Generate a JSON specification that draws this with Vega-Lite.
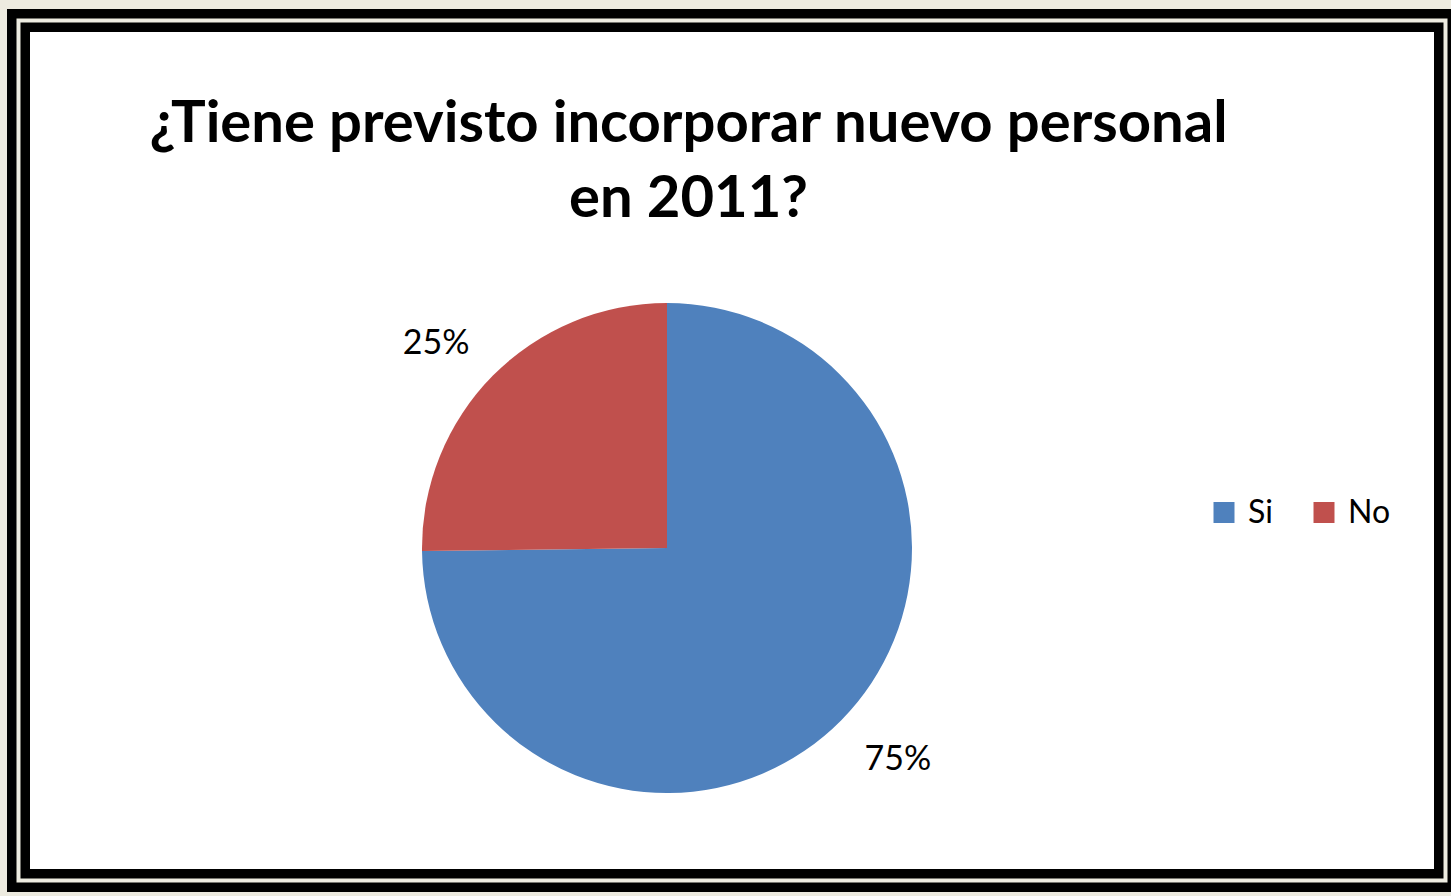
{
  "$schema": "https://vega.github.io/schema/vega-lite/v6.json",
  "autosize": {"type": "none"},
  "width": 1427,
  "height": 860,
  "padding": {"left": 18.5, "top": 20.5, "right": 5.5, "bottom": 15.5},
  "background": "#EDEBE0",
  "view": {"fill": "#ffffff", "stroke": "#000000", "strokeWidth": 23},
  "config": {
    "view": {"fill": "#ffffff", "stroke": "#000000", "strokeWidth": 23}
  },
  "title": {
    "text": ["¿Tiene previsto incorporar nuevo personal", "en 2011?"],
    "font": "Lato",
    "fontSize": 58,
    "fontWeight": "bold",
    "color": "#000000",
    "anchor": "middle",
    "dx": -43.5,
    "offset": -210,
    "lineHeight": 75
  },
  "data": {
    "values": [
      {"respuesta": "Si", "porcentaje": 0.748},
      {"respuesta": "No", "porcentaje": 0.252}
    ]
  },
  "layer": [
    {
      "data": {"values": [{"marco": "borde"}]},
      "mark": {"type": "rect", "fill": null, "stroke": "#EDEBE0", "strokeWidth": 4},
      "encoding": {}
    },
    {
      "mark": {"type": "arc", "outerRadius": 245, "x": 648.5, "y": 527.5},
      "encoding": {
        "theta": {"field": "porcentaje", "type": "quantitative", "stack": true},
        "order": {"field": "respuesta", "sort": "descending"},
        "color": {
          "field": "respuesta",
          "type": "nominal",
          "scale": {"domain": ["Si", "No"], "range": ["#4F81BD", "#C0504D"]},
          "legend": {
            "orient": "none",
            "legendX": 1189.5,
            "legendY": 476,
            "direction": "horizontal",
            "title": null,
            "symbolType": "square",
            "symbolSize": 441,
            "symbolStrokeWidth": 0,
            "labelFont": "Lato",
            "labelFontSize": 32,
            "labelColor": "#000000",
            "labelOffset": 8,
            "columnPadding": 35,
            "padding": 0
          }
        }
      }
    },
    {
      "mark": {"type": "text", "radius": 311, "thetaOffset": -0.045, "x": 648.5, "y": 527.5, "dy": 4, "font": "Lato", "fontSize": 34, "color": "#000000", "align": "center", "baseline": "middle"},
      "encoding": {
        "theta": {"field": "porcentaje", "type": "quantitative", "stack": true},
        "order": {"field": "respuesta", "sort": "descending"},
        "text": {"field": "porcentaje", "type": "quantitative", "format": ".0%"}
      }
    }
  ]
}
